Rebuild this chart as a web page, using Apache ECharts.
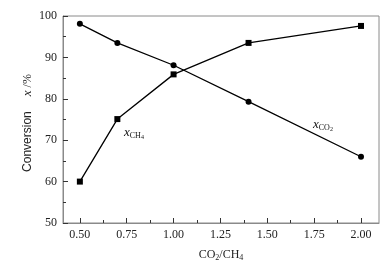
<!DOCTYPE html>
<html><head><meta charset="utf-8">
<script src="https://cdn.jsdelivr.net/npm/echarts@6/dist/echarts.min.js"></script>
<style>html,body{margin:0;padding:0;background:#fff}#c{width:392px;height:267px}</style>
</head><body><div id="c"></div>
<script>
const ratio = [0.5, 0.7, 1.0, 1.4, 2.0];
const xCH4 = [60.0, 75.1, 85.9, 93.5, 97.6];
const xCO2 = [98.1, 93.5, 88.1, 79.3, 66.0];
const xTicks = [0.5, 0.75, 1.0, 1.25, 1.5, 1.75, 2.0];
const xMinorTicks = [0.625, 0.875, 1.125, 1.375, 1.625, 1.875];

const serif = '"Liberation Serif","DejaVu Serif",serif';
const sans = '"Liberation Sans",Arial,sans-serif';
const axisGray = '#8a8a8a';
const chart = echarts.init(document.getElementById('c'));
const pair = (xs, ys) => xs.map((x, i) => [x, ys[i]]);
const subRich = {
  x: {fontFamily: serif, fontSize: 13, fontStyle: 'italic', fill: '#111'},
  s: {fontFamily: serif, fontSize: 8, fill: '#111', padding: [6, 0, 0, 0]},
  t: {fontFamily: serif, fontSize: 6, fill: '#111', padding: [9, 0, 0, 0]}
};
chart.setOption({
  animation: false,
  grid: {left: 63, top: 16, right: 13, bottom: 42, show: true, borderColor: axisGray, borderWidth: 1},
  xAxis: [{
    type: 'value', min: 0.41, max: 2.096,
    axisLine: {show: true, lineStyle: {color: axisGray}},
    axisTick: {show: true, inside: true, length: 5, lineStyle: {color: '#333'}, customValues: xTicks},
    axisLabel: {customValues: xTicks, color: '#222', fontFamily: serif, fontSize: 12, margin: 6,
      formatter: v => v.toFixed(2)},
    splitLine: {show: false},
    name: '{n|CO}{s|2}{n|/CH}{s|4}', nameLocation: 'middle', nameGap: 24,
    nameTextStyle: {rich: {
      n: {fontFamily: serif, fontSize: 12, color: '#222'},
      s: {fontFamily: serif, fontSize: 8, color: '#222', padding: [7, 0, 0, 0]}
    }}
  }, {
    type: 'value', min: 0.41, max: 2.096, position: 'bottom',
    axisLine: {show: false},
    axisTick: {show: true, inside: true, length: 3, lineStyle: {color: '#333'}, customValues: xMinorTicks},
    axisLabel: {show: false}, splitLine: {show: false}
  }],
  yAxis: {
    type: 'value', min: 50, max: 100, interval: 10,
    axisLine: {show: true, lineStyle: {color: axisGray}},
    axisTick: {show: true, inside: true, length: 5, lineStyle: {color: '#333'}},
    minorTick: {show: true, splitNumber: 2, length: 3, lineStyle: {color: '#333'}},
    axisLabel: {color: '#222', fontFamily: serif, fontSize: 12, margin: 6},
    splitLine: {show: false}
  },
  series: [{
    type: 'line', data: pair(ratio, xCH4), symbol: 'rect', symbolSize: 6,
    lineStyle: {color: '#000', width: 1.3}, itemStyle: {color: '#000'}
  }, {
    type: 'line', data: pair(ratio, xCO2), symbol: 'circle', symbolSize: 6,
    lineStyle: {color: '#000', width: 1.3}, itemStyle: {color: '#000'}
  }],
  graphic: [{
    type: 'text', x: 28, y: 123, rotation: Math.PI / 2,
    style: {text: '{c|Conversion}{g|}{x|x}{p| /%}', align: 'center', verticalAlign: 'middle', rich: {
      c: {fontFamily: sans, fontSize: 12, fill: '#222'},
      g: {width: 15},
      x: {fontFamily: serif, fontSize: 13, fontStyle: 'italic', fill: '#222'},
      p: {fontFamily: serif, fontSize: 12, fill: '#222'}
    }}
  }, {
    type: 'text', left: 124, top: 126,
    style: {text: '{x|x}{s|CH}{t|4}', rich: subRich}
  }, {
    type: 'text', left: 313, top: 118,
    style: {text: '{x|x}{s|CO}{t|2}', rich: subRich}
  }]
});
</script></body></html>
